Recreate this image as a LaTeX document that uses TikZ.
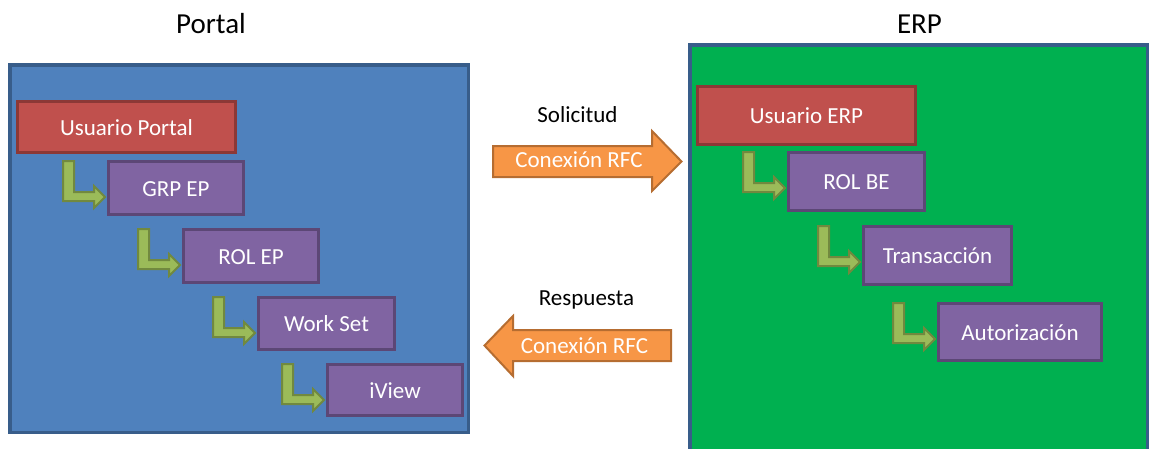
\documentclass[tikz,border=0pt]{standalone}
\usepackage{fontspec}
\setmainfont{Carlito}
\definecolor{portalfill}{HTML}{4F81BD}
\definecolor{frameline}{HTML}{385D8A}
\definecolor{erpfill}{HTML}{00B050}
\definecolor{userfill}{HTML}{C0504D}
\definecolor{userline}{HTML}{8C3836}
\definecolor{rolefill}{HTML}{8064A2}
\definecolor{roleline}{HTML}{5C4776}
\definecolor{elbowfill}{HTML}{9BBB59}
\definecolor{elbowline}{HTML}{71893F}
\definecolor{rfcfill}{HTML}{F79646}
\definecolor{rfcline}{HTML}{B66D31}
\tikzset{
  frame/.style={draw=frameline, line width=3.5pt},
  title/.style={anchor=base, inner sep=0pt, font=\fontsize{29}{29}\selectfont},
  caption/.style={anchor=base, inner sep=0pt, font=\fontsize{23}{23}\selectfont},
  box/.style={rectangle, line width=3pt, outer sep=0pt, inner sep=0pt,
    text=white, font=\fontsize{23}{23}\selectfont, text height=16pt, text depth=0pt},
  userbox/.style={box, fill=userfill, draw=userline},
  rolebox/.style={box, fill=rolefill, draw=roleline},
  elbow/.style={fill=elbowfill, draw=elbowline, line width=2pt, line join=miter},
  rfc/.style={fill=rfcfill, draw=rfcline, line width=2pt, line join=miter},
  rfctext/.style={anchor=base, inner sep=0pt, text=white, font=\fontsize{23}{23}\selectfont}
}
% bent green arrow that leads into the left side of node #1
\newcommand\elbowinto[1]{%
  \begin{scope}[shift={(#1.north west)}]
    \draw[elbow] (-45.5,-0.5) -- (-34.5,-0.5) -- (-34.5,30.5) -- (-14.5,30.5)
      -- (-14.5,24.5) -- (-3.5,35.5) -- (-14.5,46.5) -- (-14.5,39.5)
      -- (-45.5,39.5) -- cycle;
  \end{scope}}
\begin{document}
\begin{tikzpicture}[x=1pt,y=-1pt]
\useasboundingbox (0,0) rectangle (1151,448);
\clip (0,0) rectangle (1151,448);

% system frames
\draw[frame, fill=portalfill] (9.75,64.75) rectangle (468.25,432.25);
\draw[frame, fill=erpfill] (689.75,44.75) rectangle (1147.25,470);
\node[title] (tportal) at (211,33) {Portal};
\node[title] (terp) at (919.5,33) {ERP};

% portal side
\node[userbox, minimum width=218pt, minimum height=51pt] (uportal) at (126.5,127) {Usuario Portal};
\node[rolebox, minimum width=135pt, minimum height=53pt] (grp) at (176,188) {GRP EP};
\node[rolebox, minimum width=135pt, minimum height=53pt] (rolep) at (251,256) {ROL EP};
\node[rolebox, minimum width=136pt, minimum height=52pt] (workset) at (326.5,323.5) {Work Set};
\node[rolebox, minimum width=135pt, minimum height=51pt] (iview) at (395,390) {iView};
\elbowinto{grp}
\elbowinto{rolep}
\elbowinto{workset}
\elbowinto{iview}

% ERP side
\node[userbox, minimum width=218pt, minimum height=58pt] (uerp) at (806.5,115.5) {Usuario ERP};
\node[rolebox, minimum width=136pt, minimum height=58pt] (rolbe) at (856.5,181.5) {ROL BE};
\node[rolebox, minimum width=148pt, minimum height=58pt] (trans) at (937.5,255.5) {Transacción};
\node[rolebox, minimum width=163pt, minimum height=57pt] (auth) at (1020,332) {Autorización};
\elbowinto{rolbe}
\elbowinto{trans}
\elbowinto{auth}

% RFC connection: request
\node[caption] (lreq) at (577.5,122) {Solicitud};
\draw[rfc] (493,146) -- (652,146) -- (652,131) -- (681.5,161.5) -- (652,191)
  -- (652,177) -- (493,177) -- cycle;
\node[rfctext] (treq) at (579,167) {Conexión RFC};

% RFC connection: response
\node[caption] (lresp) at (586.5,305) {Respuesta};
\draw[rfc] (671,330) -- (513,330) -- (513,316) -- (484.5,345.5) -- (513,376)
  -- (513,361) -- (671,361) -- cycle;
\node[rfctext] (tresp) at (584.5,353) {Conexión RFC};
\end{tikzpicture}
\end{document}
